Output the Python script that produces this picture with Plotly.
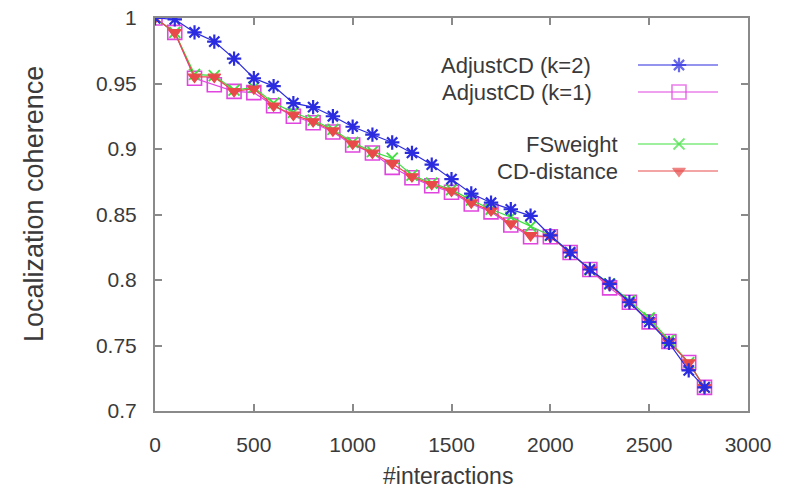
import plotly.graph_objects as go

# Number of interactions at each sample
interactions = [0, 100, 200, 300, 400, 500, 600, 700, 800, 900, 1000, 1100, 1200, 1300,
                1400, 1500, 1600, 1700, 1800, 1900, 2000, 2100, 2200, 2300, 2400, 2500,
                2600, 2700, 2780]

# Localization coherence per method
adjust_k2 = [1.0, 0.999, 0.989, 0.982, 0.969, 0.954, 0.948, 0.935, 0.932, 0.925, 0.917,
             0.911, 0.905, 0.897, 0.888, 0.877, 0.866, 0.859, 0.854, 0.849, 0.834, 0.821,
             0.808, 0.797, 0.783, 0.768, 0.752, 0.731, 0.718]
adjust_k1 = [1.0, 0.989, 0.954, 0.949, 0.944, 0.943, 0.933, 0.925, 0.920, 0.913, 0.903,
             0.897, 0.886, 0.878, 0.872, 0.867, 0.858, 0.852, 0.842, 0.833, 0.833, 0.821,
             0.808, 0.794, 0.783, 0.768, 0.753, 0.737, 0.718]
fsweight = [1.0, 0.989, 0.957, 0.956, 0.945, 0.947, 0.935, 0.928, 0.922, 0.915, 0.905,
            0.898, 0.893, 0.880, 0.874, 0.869, 0.861, 0.854, 0.848, 0.841, 0.834, 0.821,
            0.808, 0.797, 0.784, 0.771, 0.754, 0.737, 0.718]
cd_distance = [1.0, 0.989, 0.955, 0.955, 0.944, 0.946, 0.933, 0.926, 0.921, 0.914, 0.904,
               0.897, 0.889, 0.879, 0.873, 0.868, 0.859, 0.853, 0.843, 0.834, 0.833, 0.821,
               0.808, 0.796, 0.783, 0.769, 0.753, 0.737, 0.718]

series_names = ["AdjustCD (k=2)", "AdjustCD (k=1)", "FSweight", "CD-distance"]

x_ticks = [0, 500, 1000, 1500, 2000, 2500, 3000]
x_tick_text = ["0", "500", "1000", "1500", "2000", "2500", "3000"]
y_ticks = [0.7, 0.75, 0.8, 0.85, 0.9, 0.95, 1.0]
y_tick_text = ["0.7", "0.75", "0.8", "0.85", "0.9", "0.95", "1"]

x_title = "#interactions"
y_title = "Localization coherence"

FONT = "Liberation Sans, Arial, sans-serif"
TEXT = "#3a3a3a"
AXIS = "#8a8a8a"

# plot box in pixels
W, H = 792, 491
L, R, T, B = 155, 748, 18, 411


def paper_x(px):
    return (px - L) / (R - L)


def paper_y(py):
    return (B - py) / (B - T)


styles = {
    "AdjustCD (k=2)": dict(color="#2b2be0", symbol="asterisk-open", size=12, lw=2.2),
    "AdjustCD (k=1)": dict(color="#e045e0", symbol="square-open", size=14, lw=1.6),
    "FSweight": dict(color="#3ee03e", symbol="x-thin-open", size=11, lw=1.8),
    "CD-distance": dict(color="#e84a4a", symbol="triangle-down", size=11, lw=1.2),
}

fig = go.Figure()

# draw order: squares underneath, asterisks on top
for name, ys in [("AdjustCD (k=1)", adjust_k1), ("FSweight", fsweight),
                 ("CD-distance", cd_distance), ("AdjustCD (k=2)", adjust_k2)]:
    s = styles[name]
    fig.add_trace(go.Scatter(
        x=interactions, y=ys, mode="lines+markers", name=name, showlegend=False,
        line=dict(color=s["color"], width=1.2),
        marker=dict(symbol=s["symbol"], size=s["size"], color=s["color"],
                    line=dict(color=s["color"], width=s["lw"])),
    ))

# key drawn in pixel-like overlay coordinates (text left, sample right)
key_rows = [(series_names[0], 65, 593), (series_names[1], 92, 594),
            (series_names[2], 144, 620), (series_names[3], 171, 620)]
for name, ky, tx in key_rows:
    s = styles[name]
    fig.add_trace(go.Scatter(
        x=[638, 679, 718], y=[ky, ky, ky], xaxis="x2", yaxis="y2",
        mode="lines+markers", showlegend=False, hoverinfo="skip",
        line=dict(color=s["color"], width=1.2),
        marker=dict(symbol=s["symbol"], size=[0, s["size"], 0], color=s["color"],
                    line=dict(color=s["color"], width=s["lw"])),
    ))
    fig.add_annotation(x=tx, y=ky, xref="x2", yref="y2", text=name, showarrow=False,
                       xanchor="right", yanchor="middle",
                       font=dict(family=FONT, size=22, color=TEXT))

# axis titles
fig.add_annotation(x=paper_x(448), y=paper_y(476), xref="paper", yref="paper",
                   text=x_title, showarrow=False, xanchor="center", yanchor="middle",
                   font=dict(family=FONT, size=23, color=TEXT))
fig.add_annotation(x=paper_x(34), y=paper_y(204), xref="paper", yref="paper",
                   text=y_title, showarrow=False, textangle=-90,
                   xanchor="center", yanchor="middle",
                   font=dict(family=FONT, size=27, color=TEXT))

axis_common = dict(showline=True, linecolor=AXIS, linewidth=2, mirror="ticks",
                   ticks="inside", ticklen=7, tickwidth=1.5, tickcolor=AXIS,
                   showgrid=False, zeroline=False, automargin=False,
                   tickfont=dict(family=FONT, size=21, color=TEXT))

fig.update_layout(
    width=W, height=H,
    margin=dict(l=L, r=W - R, t=T, b=H - B, autoexpand=False),
    paper_bgcolor="white", plot_bgcolor="white",
    xaxis=dict(range=[0, 3000], tickvals=x_ticks, ticktext=x_tick_text,
               ticklabelstandoff=14, **axis_common),
    yaxis=dict(range=[0.7, 1.0], tickvals=y_ticks, ticktext=y_tick_text,
               ticklabelstandoff=12, **axis_common),
    xaxis2=dict(range=[L, R], overlaying="x", visible=False, fixedrange=True),
    yaxis2=dict(range=[B, T], overlaying="y", visible=False, fixedrange=True),
)

fig.write_html("out.html")
